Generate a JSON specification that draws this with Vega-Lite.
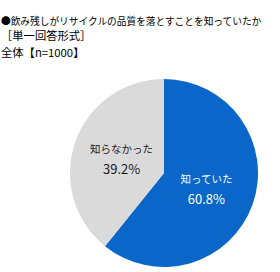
{
  "$schema": "https://vega.github.io/schema/vega-lite/v6.json",
  "autosize": "none",
  "width": 188,
  "height": 188,
  "padding": {"left": 70, "top": 79, "right": 22, "bottom": 5},
  "background": "white",
  "title": {
    "text": "  ●飲み残しがリサイクルの品質を落とすことを知っていたか",
    "subtitle": [" ［単一回答形式］", "全体【n=1000】"],
    "anchor": "start",
    "frame": "group",
    "dx": -69,
    "offset": 20,
    "font": "Noto Sans CJK JP",
    "fontSize": 9.7,
    "fontWeight": "normal",
    "color": "#000000",
    "subtitleFont": "Noto Sans CJK JP",
    "subtitleFontSize": 11.3,
    "subtitleColor": "#000000",
    "subtitleLineHeight": 16.5,
    "subtitlePadding": 5
  },
  "data": {
    "values": [
      {"label": "知っていた", "value": 0.608},
      {"label": "知らなかった", "value": 0.392}
    ]
  },
  "encoding": {
    "theta": {"field": "value", "type": "quantitative", "stack": true},
    "order": {"field": "value", "type": "quantitative", "sort": "descending"}
  },
  "layer": [
    {
      "mark": {"type": "arc", "outerRadius": 94},
      "encoding": {
        "color": {
          "field": "label",
          "type": "nominal",
          "scale": {"domain": ["知っていた", "知らなかった"], "range": ["#0A66C8", "#DADADA"]},
          "legend": null
        }
      }
    },
    {
      "mark": {"type": "text", "radius": 45, "dy": -8, "font": "Noto Sans CJK JP", "fontSize": 10.5},
      "encoding": {
        "text": {"field": "label", "type": "nominal"},
        "color": {"condition": {"test": "datum.label === '知っていた'", "value": "#FFFFFF"}, "value": "#1A1A1A"}
      }
    },
    {
      "mark": {"type": "text", "radius": 45, "dy": 12, "font": "Noto Sans CJK JP", "fontSize": 13},
      "encoding": {
        "text": {"field": "value", "type": "quantitative", "format": ".1%"},
        "color": {"condition": {"test": "datum.label === '知っていた'", "value": "#FFFFFF"}, "value": "#1A1A1A"}
      }
    }
  ]
}
